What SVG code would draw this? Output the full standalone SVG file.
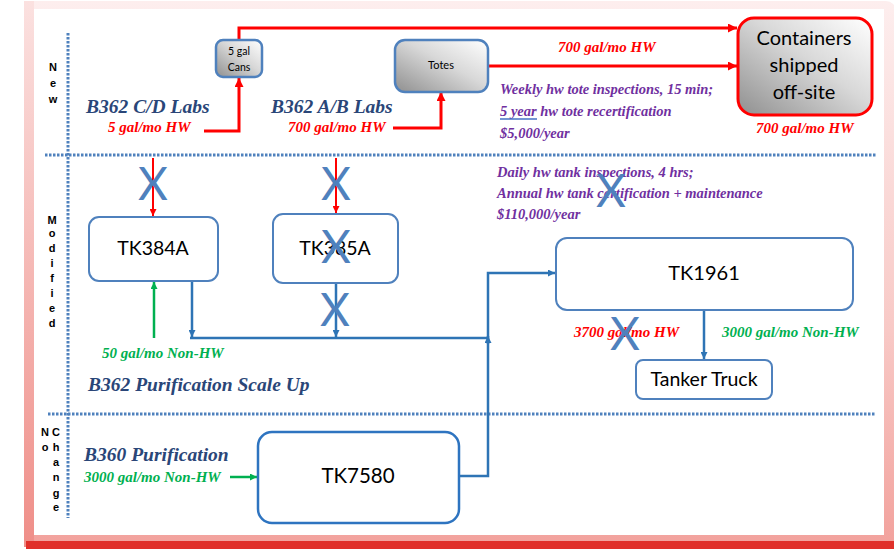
<svg xmlns="http://www.w3.org/2000/svg" width="894" height="553" viewBox="0 0 894 553">
<defs>
<linearGradient id="frameG" x1="0" y1="0" x2="0" y2="1">
<stop offset="0" stop-color="#fdeeee"/>
<stop offset="0.6" stop-color="#f8c9c6"/>
<stop offset="1" stop-color="#f2a19c"/>
</linearGradient>
<linearGradient id="leftG" x1="0" y1="0" x2="0" y2="1">
<stop offset="0" stop-color="#fbe1e0"/>
<stop offset="1" stop-color="#ef8e88"/>
</linearGradient>
<linearGradient id="grayG" x1="0" y1="1" x2="1" y2="0">
<stop offset="0" stop-color="#8f8f8f"/>
<stop offset="0.55" stop-color="#d8d8d8"/>
<stop offset="1" stop-color="#ffffff"/>
</linearGradient>
<marker id="arR" viewBox="0 0 10 10" refX="10" refY="5" markerUnits="userSpaceOnUse" markerWidth="10" markerHeight="9" orient="auto"><path d="M0,0 L10,5 L0,10 z" fill="#ff0000"/></marker>
<marker id="arRs" viewBox="0 0 10 10" refX="10" refY="5" markerUnits="userSpaceOnUse" markerWidth="8" markerHeight="7" orient="auto"><path d="M0,0 L10,5 L0,10 z" fill="#ff0000"/></marker>
<marker id="arB" viewBox="0 0 10 10" refX="10" refY="5" markerUnits="userSpaceOnUse" markerWidth="8" markerHeight="7" orient="auto"><path d="M0,0 L10,5 L0,10 z" fill="#2e74b5"/></marker>
<marker id="arG" viewBox="0 0 10 10" refX="10" refY="5" markerUnits="userSpaceOnUse" markerWidth="8" markerHeight="7" orient="auto"><path d="M0,0 L10,5 L0,10 z" fill="#00b050"/></marker>
</defs>
<style>
.lbl{font-family:"Liberation Serif","Times New Roman",serif;font-weight:bold;font-style:italic}
.navy{fill:#2a4678;font-size:19.5px}
.red{fill:#ff0000;font-size:15px}
.grn{fill:#00b050;font-size:15px}
.pur{fill:#7030a0;font-size:14.5px}
.sec{font-family:"Liberation Sans",Arial,sans-serif;font-weight:bold;font-size:11px;fill:#000;text-anchor:middle}
.box{fill:#fff;stroke:#4f81bd;stroke-width:2}
.gbox{fill:url(#grayG);stroke:#4f81bd;stroke-width:2.5}
.nt{font-family:Lato,"Open Sans",sans-serif;fill:#000;text-anchor:middle}
.xm{font-family:Lato,"Liberation Sans",sans-serif;font-size:46px;fill:#4f81bd;text-anchor:middle}
.dot{stroke:#4f81bd;stroke-width:3;stroke-dasharray:2.5 1.5;fill:none}
.cr{fill:none;stroke:#ff0000;stroke-width:3}
.crs{fill:none;stroke:#ff0000;stroke-width:2}
.cb{fill:none;stroke:#2e74b5;stroke-width:2.5}
.cg{fill:none;stroke:#00b050;stroke-width:2.5}
</style>

<g id="frame">
<rect x="24" y="1" width="872" height="548" rx="10" fill="url(#frameG)"/>
<rect x="24" y="1" width="10" height="546" fill="url(#leftG)"/>
<rect x="26" y="541" width="868" height="8" fill="#e0302a"/>
<rect x="34" y="9" width="850" height="526" fill="#ffffff"/>
</g>

<g id="dividers">
<line class="dot" x1="68" y1="33" x2="68" y2="518"/>
<line class="dot" x1="45" y1="155" x2="876" y2="155"/>
<line class="dot" x1="48" y1="414" x2="876" y2="414"/>
</g>

<g id="section-labels">
<text class="sec" x="53" y="71">N</text>
<text class="sec" x="53" y="87">e</text>
<text class="sec" x="53" y="103">w</text>
<text class="sec" x="52" y="224">M</text>
<text class="sec" x="52" y="237">o</text>
<text class="sec" x="52" y="252">d</text>
<text class="sec" x="52" y="267">i</text>
<text class="sec" x="52" y="282">f</text>
<text class="sec" x="52" y="297">i</text>
<text class="sec" x="52" y="312">e</text>
<text class="sec" x="52" y="327">d</text>
<text class="sec" x="45" y="436">N</text>
<text class="sec" x="45" y="451">o</text>
<text class="sec" x="56" y="436">C</text>
<text class="sec" x="56" y="451">h</text>
<text class="sec" x="56" y="466">a</text>
<text class="sec" x="56" y="481">n</text>
<text class="sec" x="56" y="497">g</text>
<text class="sec" x="56" y="511">e</text>
</g>

<g id="connectors">
<path class="cr" d="M204,131 H239 V78" marker-end="url(#arR)"/>
<path class="cr" d="M239,40 V28 H737" marker-end="url(#arR)"/>
<path class="cr" d="M393,128 H441 V92" marker-end="url(#arR)"/>
<path class="cr" d="M488,66 H737" marker-end="url(#arR)"/>
<path class="crs" d="M153,158 V216" marker-end="url(#arRs)"/>
<path class="crs" d="M336,158 V213" marker-end="url(#arRs)"/>
<path class="cg" d="M154,338 V282" marker-end="url(#arG)"/>
<path class="cb" d="M192,282 V337" marker-end="url(#arB)"/>
<path class="cb" d="M336,284 V337" marker-end="url(#arB)"/>
<path class="cb" d="M190,338 H488"/>
<path class="cb" d="M488,344 V336" marker-end="url(#arB)"/>
<path class="cb" d="M459,476 H488 V273 H555" marker-end="url(#arB)"/>
<path class="cb" d="M704,310 V359" marker-end="url(#arB)"/>
<path class="cg" d="M230,477 H257" marker-end="url(#arG)"/>
</g>

<g id="cans">
<rect class="gbox" x="216" y="40" width="46" height="37" rx="7"/>
<text class="nt" x="239" y="55" font-size="10.5">5 gal</text>
<text class="nt" x="239" y="71" font-size="10.5">Cans</text>
</g>
<g id="totes">
<rect class="gbox" x="395" y="40" width="93" height="52" rx="10"/>
<text class="nt" x="441" y="69" font-size="11">Totes</text>
</g>
<g id="containers">
<rect x="738" y="18" width="134" height="97" rx="16" fill="url(#grayG)" stroke="#ff0000" stroke-width="3"/>
<text class="nt" x="804" y="45" font-size="20">Containers</text>
<text class="nt" x="804" y="72" font-size="20">shipped</text>
<text class="nt" x="804" y="99" font-size="20">off-site</text>
</g>
<g id="tk384a">
<rect class="box" x="89" y="217" width="129" height="64" rx="10"/>
<text class="nt" x="153" y="255" font-size="19.5">TK384A</text>
</g>
<g id="tk385a">
<rect class="box" x="273" y="214" width="125" height="69" rx="10"/>
<text class="nt" x="335" y="255" font-size="19.5">TK385A</text>
</g>
<g id="tk1961">
<rect class="box" x="556" y="238" width="297" height="72" rx="11"/>
<text class="nt" x="704" y="280" font-size="20">TK1961</text>
</g>
<g id="tanker-truck">
<rect class="box" x="636" y="360" width="136" height="39" rx="7"/>
<text class="nt" x="704" y="386" font-size="19.5">Tanker Truck</text>
</g>
<g id="tk7580">
<rect x="258" y="432" width="201" height="91" rx="14" fill="#fff" stroke="#2e74c0" stroke-width="2.5"/>
<text class="nt" x="358" y="483" font-size="20.5">TK7580</text>
</g>

<g id="labels">
<text class="lbl navy" x="86" y="113">B362 C/D Labs</text>
<text class="lbl red" x="108" y="132">5 gal/mo HW</text>
<text class="lbl navy" x="271" y="113">B362 A/B Labs</text>
<text class="lbl red" x="288" y="132">700 gal/mo HW</text>
<text class="lbl red" x="558" y="52">700 gal/mo HW</text>
<text class="lbl pur" x="500" y="94">Weekly hw tote inspections, 15 min;</text>
<text class="lbl pur" x="500" y="116">5 year hw tote recertification</text>
<line x1="500" y1="119" x2="537" y2="119" stroke="#4472c4" stroke-width="1.3"/>
<text class="lbl pur" x="500" y="138">$5,000/year</text>
<text class="lbl red" x="756" y="133">700 gal/mo HW</text>
<text class="lbl pur" x="497" y="177">Daily hw tank inspections, 4 hrs;</text>
<text class="lbl pur" x="497" y="198">Annual hw tank certification + maintenance</text>
<text class="lbl pur" x="497" y="219">$110,000/year</text>
<text class="lbl grn" x="102" y="358">50 gal/mo Non-HW</text>
<text class="lbl navy" x="88" y="391">B362 Purification Scale Up</text>
<text class="lbl red" x="574" y="337">3700 gal/mo HW</text>
<text class="lbl grn" x="722" y="337">3000 gal/mo Non-HW</text>
<text class="lbl navy" x="84" y="461">B360 Purification</text>
<text class="lbl grn" x="84" y="482">3000 gal/mo Non-HW</text>
</g>

<g id="x-marks">
<text class="xm" x="153" y="200">X</text>
<text class="xm" x="336" y="200">X</text>
<text class="xm" x="336" y="263">X</text>
<text class="xm" x="335" y="326">X</text>
<text class="xm" x="611" y="207">X</text>
<text class="xm" x="625" y="350">X</text>
</g>
</svg>
